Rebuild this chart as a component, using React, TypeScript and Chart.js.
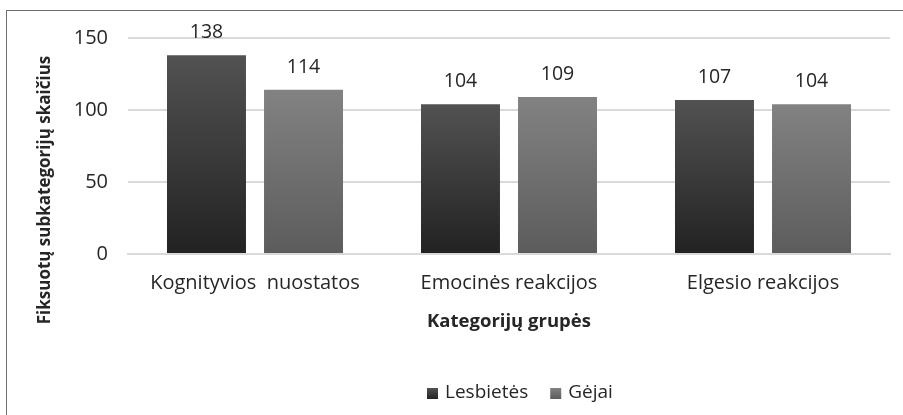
import React, { useEffect, useRef } from "react";
import { Chart, registerables } from "chart.js";

Chart.register(...registerables);

const categories = ["Kognityvios  nuostatos", "Emocinės reakcijos", "Elgesio reakcijos"];
const seriesNames = ["Lesbietės", "Gėjai"];
const lesbietes = [138, 104, 107];
const gejai = [114, 109, 104];
const yTicks = [0, 50, 100, 150];
const yTitle = "Fiksuotų subkategorijų skaičius";
const xTitle = "Kategorijų grupės";

const FONT = "'Open Sans', Lato, sans-serif";
const gradStops = [
  ["#525252", "#222222"],
  ["#828282", "#5c5c5c"],
];

export default function App() {
  const ref = useRef<HTMLCanvasElement | null>(null);

  useEffect(() => {
    document.body.style.margin = "0";
    const canvas = ref.current;
    if (!canvas) return;

    const barGradient = (ctx: any, dsIndex: number) => {
      const chart = ctx.chart;
      const y = chart.scales?.y;
      const stops = gradStops[dsIndex];
      if (!y || !chart.chartArea || ctx.dataIndex === undefined) return stops[0];
      const v = chart.data.datasets[dsIndex].data[ctx.dataIndex] as number;
      const top = y.getPixelForValue(v);
      const bottom = y.getPixelForValue(0);
      const g = chart.ctx.createLinearGradient(0, top, 0, bottom);
      g.addColorStop(0, stops[0]);
      g.addColorStop(1, stops[1]);
      return g;
    };

    const decor = {
      id: "decor",
      afterDatasetsDraw(chart: any) {
        const c = chart.ctx;
        c.save();
        // value labels
        c.fillStyle = "#262626";
        c.font = `19.5px ${FONT}`;
        c.textAlign = "center";
        c.textBaseline = "alphabetic";
        chart.data.datasets.forEach((ds: any, di: number) => {
          const meta = chart.getDatasetMeta(di);
          meta.data.forEach((bar: any, i: number) => {
            c.fillText(String(ds.data[i]), bar.x, bar.y - 17);
          });
        });
        // y title
        c.font = `bold 17px ${FONT}`;
        c.textBaseline = "middle";
        c.save();
        c.translate(45, 190);
        c.rotate(-Math.PI / 2);
        c.fillText(yTitle, 0, 0);
        c.restore();
        // x title
        const ca = chart.chartArea;
        c.font = `bold 18.5px ${FONT}`;
        c.fillText(xTitle, (ca.left + ca.right) / 2, 322);
        // legend
        c.font = `19px ${FONT}`;
        c.textAlign = "left";
        const ly = 393;
        let lx = 427;
        seriesNames.forEach((name, i) => {
          const g = c.createLinearGradient(0, ly - 5, 0, ly + 6);
          g.addColorStop(0, gradStops[i][0]);
          g.addColorStop(1, gradStops[i][1]);
          c.fillStyle = g;
          c.fillRect(lx, ly - 5, 11, 11);
          c.fillStyle = "#262626";
          c.fillText(name, lx + 18, ly);
          lx += 18 + c.measureText(name).width + 22;
        });
        c.restore();
      },
    };

    const chart = new Chart(canvas, {
      type: "bar",
      data: {
        labels: categories,
        datasets: [
          {
            label: seriesNames[0],
            data: lesbietes,
            backgroundColor: (ctx: any) => barGradient(ctx, 0),
            borderWidth: 0,
            categoryPercentage: 0.764,
            barPercentage: 0.814,
          },
          {
            label: seriesNames[1],
            data: gejai,
            backgroundColor: (ctx: any) => barGradient(ctx, 1),
            borderWidth: 0,
            categoryPercentage: 0.764,
            barPercentage: 0.814,
          },
        ],
      },
      options: {
        animation: false,
        responsive: false,
        maintainAspectRatio: false,
        layout: { padding: { left: 0, right: 13, top: 38, bottom: 0 } },
        plugins: {
          legend: { display: false },
          tooltip: { enabled: false },
          title: { display: false },
        },
        scales: {
          x: {
            grid: { display: false, drawTicks: false },
            border: { display: true, color: "#d9d9d9", width: 2 },
            ticks: {
              color: "#262626",
              font: { family: FONT, size: 20 },
              padding: 17,
              maxRotation: 0,
              autoSkip: false,
            },
            afterFit: (s: any) => {
              s.height = 161;
            },
          },
          y: {
            min: 0,
            max: 150,
            afterBuildTicks: (s: any) => {
              s.ticks = yTicks.map((v) => ({ value: v }));
            },
            grid: { color: "#d9d9d9", lineWidth: 2, drawTicks: false },
            border: { display: false },
            ticks: {
              color: "#262626",
              font: { family: FONT, size: 20 },
              padding: 20,
            },
            afterFit: (s: any) => {
              s.width = 128;
            },
          },
        },
      },
      plugins: [decor],
    });
    return () => chart.destroy();
  }, []);

  return (
    <div style={{ position: "fixed", left: 0, top: 0, width: 903, height: 415, background: "#fff", overflow: "hidden" }}>
      <div
        style={{
          position: "absolute",
          left: 6,
          top: 10,
          width: 900,
          height: 410,
          borderLeft: "1px solid #6f6f6f",
          borderTop: "1px solid #6f6f6f",
          boxSizing: "border-box",
        }}
      />
      <canvas ref={ref} width={903} height={415} style={{ position: "absolute", left: 0, top: 0 }} />
    </div>
  );
}
